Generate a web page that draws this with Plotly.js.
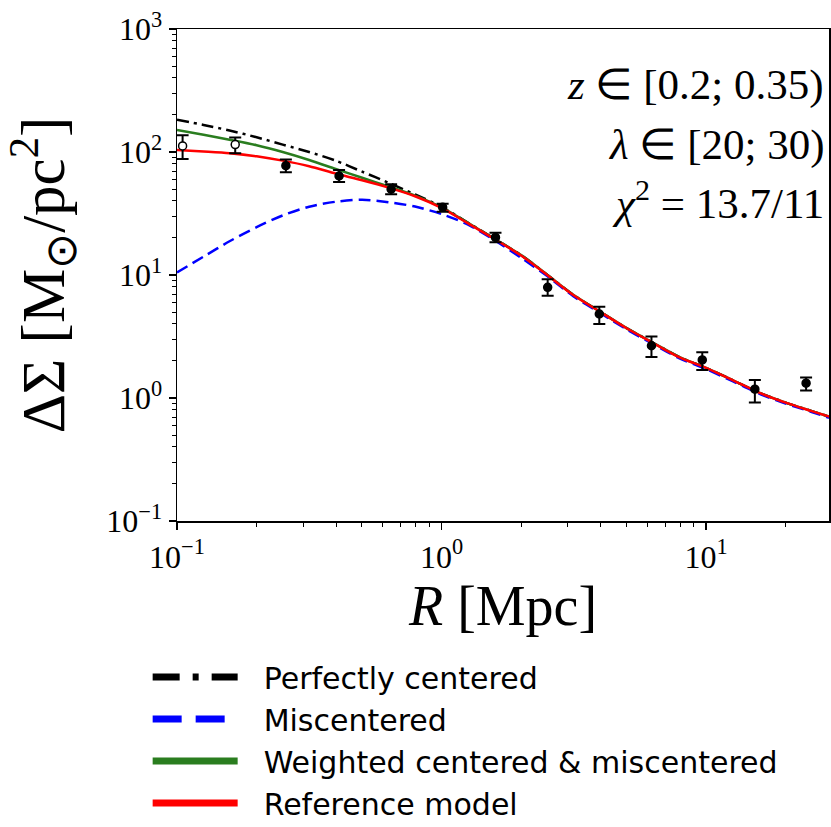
<!DOCTYPE html>
<html>
<head>
<meta charset="utf-8">
<script src="https://cdn.plot.ly/plotly-3.0.1.min.js"></script>
<style>html,body{margin:0;padding:0;background:#fff;}</style>
</head>
<body>
<div id="chart" style="width:831px;height:827px;"></div>
<script>
// ---- data ----
const radius = [0.1, 0.126, 0.158, 0.2, 0.251, 0.316, 0.398, 0.501, 0.631, 0.794, 1.0, 1.26, 1.58, 2.0, 2.51, 3.16, 3.98, 5.01, 6.31, 7.94, 10.0, 12.6, 15.8, 20.0, 25.1, 29.2];
const perfectlyCentered = [182.8, 166, 149.6, 131.8, 114.8, 100, 85.1, 69.2, 56.2, 45.2, 35.9, 26.6, 19.8, 14.5, 10.05, 6.87, 5.03, 3.70, 2.81, 2.15, 1.76, 1.40, 1.11, 0.918, 0.783, 0.706];
const miscentered = [10.5, 14.1, 18.8, 24.5, 30.5, 35.9, 39.4, 40.9, 39.1, 36.0, 31.3, 25.7, 19.3, 13.8, 9.8, 6.7, 4.91, 3.62, 2.74, 2.10, 1.72, 1.37, 1.09, 0.90, 0.77, 0.69];
const weighted = [151, 138, 125.9, 113.5, 100, 86.1, 72.8, 61.7, 52.5, 44.2, 35.5, 26.5, 19.8, 14.5, 10.05, 6.87, 5.03, 3.70, 2.81, 2.15, 1.76, 1.40, 1.11, 0.918, 0.783, 0.706];
const referenceModel = [103.8, 100.9, 97.7, 92.3, 85.1, 76.7, 66.8, 58.9, 51.3, 43.7, 35.1, 26.3, 19.7, 14.4, 10.0, 6.84, 5.01, 3.69, 2.80, 2.14, 1.76, 1.40, 1.11, 0.916, 0.782, 0.705];

const dataR = [0.105, 0.166, 0.258, 0.41, 0.645, 1.01, 1.6, 2.52, 3.95, 6.22, 9.68, 15.3, 23.9];
const dataDS = [112, 115, 77.4, 63.8, 49.8, 35.5, 20.2, 7.94, 4.82, 2.66, 2.04, 1.18, 1.32];
const errPlus = [25, 16, 9.7, 7.6, 4.8, 2.5, 1.9, 1.29, 0.71, 0.5, 0.31, 0.22, 0.15];
const errMinus = [24.3, 17.3, 9.0, 6.8, 4.5, 2.8, 1.7, 1.15, 0.82, 0.51, 0.35, 0.26, 0.17];
const pointOpen = [true, true, false, false, false, false, false, false, false, false, false, false, false];

const legendNames = ['Perfectly centered', 'Miscentered', 'Weighted centered &amp; miscentered', 'Reference model'];

const xTickVals = [0.1, 1, 10];
const xTickText = ['10<sup>−1</sup>', '10<sup>0</sup>', '10<sup>1</sup>'];
const yTickVals = [0.1, 1, 10, 100, 1000];
const yTickText = ['10<sup>−1</sup>', '10<sup>0</sup>', '10<sup>1</sup>', '10<sup>2</sup>', '10<sup>3</sup>'];

const annotationLines = ['<i>z</i> ∈ [0.2; 0.35)', '<i>λ</i> ∈ [20; 30)', '<i>χ</i><sup>2</sup> = 13.7/11'];

// ---- styles ----
const cBlack = '#000000', cBlue = '#0000ff', cGreen = '#2a7d1f', cRed = '#ff0000';
const serif = 'Liberation Serif, Times New Roman, serif';
const legendGap = '\u2002\u2009';

function minorTicks(lo, hi) {
  const v = [];
  for (let e = lo; e <= hi; e++) for (let m = 2; m <= 9; m++) v.push(m * Math.pow(10, e));
  return v;
}

const lineShape = {shape: 'spline', smoothing: 0.8};
const traces = [
  {x: radius, y: perfectlyCentered, mode: 'lines', showlegend: false, name: legendNames[0],
   line: Object.assign({color: cBlack, width: 2.5, dash: '12px,5px,3px,5px'}, lineShape)},
  {x: radius, y: weighted, mode: 'lines', showlegend: false, name: legendNames[2],
   line: Object.assign({color: cGreen, width: 2.5}, lineShape)},
  {x: radius, y: miscentered, mode: 'lines', showlegend: false, name: legendNames[1],
   line: Object.assign({color: cBlue, width: 2.5, dash: '12px,6px'}, lineShape)},
  {x: radius, y: referenceModel, mode: 'lines', showlegend: false, name: legendNames[3],
   line: Object.assign({color: cRed, width: 2.5}, lineShape)},
  {x: dataR, y: dataDS, mode: 'markers', showlegend: false, name: 'data',
   marker: {size: 8, color: pointOpen.map(o => o ? '#ffffff' : '#000000'), line: {color: '#000000', width: 1.5}},
   error_y: {type: 'data', symmetric: false, array: errPlus, arrayminus: errMinus, color: '#000000', thickness: 2, width: 6}},
  // legend entries
  {x: [null], y: [null], mode: 'lines', name: legendGap + legendNames[0], line: {color: cBlack, width: 7, dash: '27px,13px,6px,13px'}},
  {x: [null], y: [null], mode: 'lines', name: legendGap + legendNames[1], line: {color: cBlue, width: 7, dash: '29px,14px'}},
  {x: [null], y: [null], mode: 'lines', name: legendGap + legendNames[2], line: {color: cGreen, width: 7}},
  {x: [null], y: [null], mode: 'lines', name: legendGap + legendNames[3], line: {color: cRed, width: 7}}
];

const axisCommon = {
  type: 'log', showgrid: false, zeroline: false, showline: true, linecolor: '#000', linewidth: 1.5,
  mirror: true, ticks: 'outside', ticklen: 7, tickwidth: 1.2, tickcolor: '#000',
  tickmode: 'array', tickfont: {family: serif, size: 32, color: '#000'}
};

const layout = {
  width: 831, height: 827,
  margin: {l: 177, r: 2, t: 29, b: 306, autoexpand: false},
  paper_bgcolor: '#fff', plot_bgcolor: '#fff',
  xaxis: Object.assign({}, axisCommon, {
    range: [-1, 1.465], tickvals: xTickVals, ticktext: xTickText,
    minor: {tickmode: 'array', tickvals: minorTicks(-1, 1), ticks: 'outside', ticklen: 4, tickcolor: '#000', tickwidth: 1},
    title: {text: '<i>R</i> [Mpc]', font: {family: serif, size: 56, color: '#000'}, standoff: 8}
  }),
  yaxis: Object.assign({}, axisCommon, {
    range: [-1, 3], tickvals: yTickVals, ticktext: yTickText,
    minor: {tickmode: 'array', tickvals: minorTicks(-1, 2), ticks: 'outside', ticklen: 4, tickcolor: '#000', tickwidth: 1},
    title: {text: '\u2003ΔΣ [M<sub>⊙</sub>/pc<sup>2</sup>]', font: {family: serif, size: 61, color: '#000'}, standoff: 22}
  }),
  showlegend: true,
  legend: {
    x: -0.045, y: -0.264, xanchor: 'left', yanchor: 'top',
    bgcolor: 'rgba(0,0,0,0)', borderwidth: 0, itemwidth: 85,
    font: {family: 'DejaVu Sans, sans-serif', size: 30, color: '#000'},
    tracegroupgap: 0
  },
  annotations: annotationLines.map((t, i) => ({
    text: t, xref: 'paper', yref: 'paper', x: 0.995, y: [0.886, 0.764, 0.652][i],
    xanchor: 'right', yanchor: 'middle', showarrow: false,
    font: {family: serif, size: 43, color: '#000'}
  }))
};

Plotly.newPlot('chart', traces, layout, {displayModeBar: false, staticPlot: true});
</script>
</body>
</html>
